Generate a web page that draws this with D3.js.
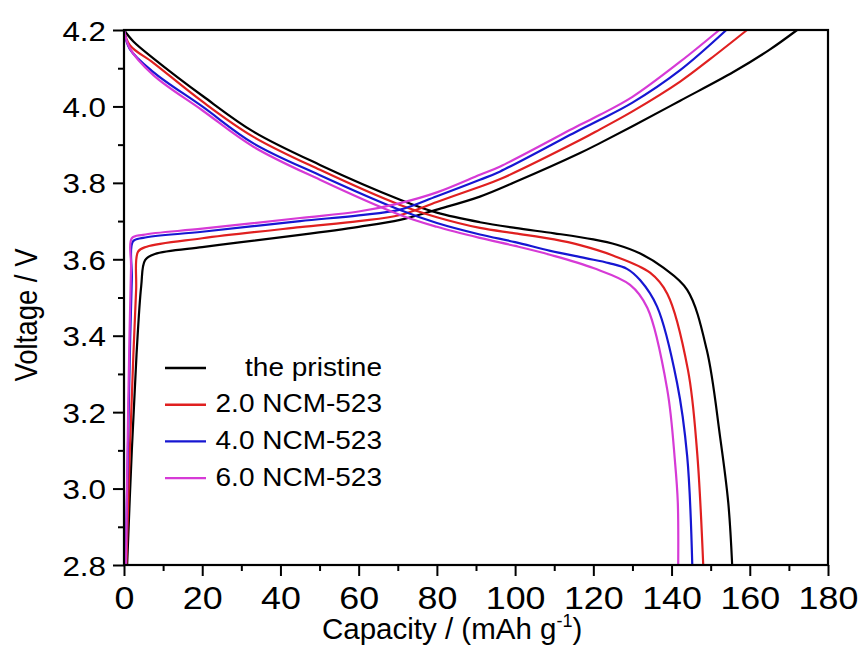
<!DOCTYPE html>
<html>
<head>
<meta charset="utf-8">
<script src="https://cdn.jsdelivr.net/npm/d3@7"></script>
<style>
  body { margin: 0; background: #fff; }
  svg text { font-family: "Liberation Sans", Arial, sans-serif; fill: #000; }
</style>
</head>
<body>
<svg id="chart"></svg>
<script>
// [capacity, voltage] pairs
const chargePristine = [[0.8,2.8],[2.0,3.1],[3.2,3.35],[4.4,3.53],[5.4,3.598],[7.9,3.614],[20,3.632],[30,3.645],[45,3.664],[60,3.685],[70.6,3.703],[80,3.73],[91,3.764],[100,3.802],[116.6,3.878],[121.7,3.904],[130,3.948],[142.2,4.015],[155.8,4.09],[165,4.148],[172.1,4.2]];
const charge20 = [[0.6,2.8],[1.5,3.1],[2.4,3.35],[3.1,3.52],[3.6,3.62],[5.8,3.633],[20,3.655],[45,3.684],[60,3.70],[70.6,3.716],[80,3.75],[91,3.79],[96.2,3.81],[116.6,3.912],[121.7,3.94],[130,3.987],[142.2,4.065],[150,4.125],[159.3,4.2]];
const charge40 = [[0.4,2.8],[1.0,3.1],[1.6,3.4],[2.0,3.55],[2.3,3.647],[4.9,3.656],[20,3.672],[45,3.70],[60,3.715],[70.6,3.73],[80,3.765],[91,3.808],[96.2,3.83],[116.6,3.939],[121.7,3.965],[130,4.01],[142.2,4.095],[154,4.2]];
const charge60 = [[0.5,2.8],[0.9,3.1],[1.4,3.4],[1.8,3.58],[2.0,3.655],[4.9,3.664],[20,3.68],[45,3.708],[60,3.725],[70.6,3.747],[80,3.775],[91,3.821],[96.2,3.843],[116.6,3.952],[121.7,3.978],[130,4.025],[142.2,4.117],[152.2,4.2]];

const dischargePristine = [[0,4.2],[2.4,4.17],[7.5,4.126],[20.3,4.026],[33.1,3.934],[50.1,3.847],[70.6,3.756],[80,3.722],[91,3.697],[100,3.682],[110,3.668],[120,3.652],[126,3.638],[132,3.615],[137.9,3.578],[144,3.52],[149,3.363],[152.4,3.136],[154.5,2.963],[155.5,2.8]];
const discharge20 = [[0,4.2],[1.5,4.16],[7.5,4.114],[20,4.013],[33,3.921],[50.1,3.834],[70.6,3.742],[80,3.71],[91,3.682],[100,3.668],[110,3.652],[116.6,3.637],[125,3.61],[134.5,3.565],[138.9,3.51],[144.2,3.31],[146.5,3.10],[148.1,2.8]];
const discharge40 = [[0,4.2],[1.5,4.15],[7.5,4.09],[20,4.0],[33,3.904],[50.1,3.82],[70.6,3.729],[80,3.695],[91,3.665],[100,3.645],[109,3.622],[118,3.603],[124,3.59],[128.6,3.575],[132,3.545],[136.3,3.476],[141.4,3.277],[144,3.084],[145.3,2.8]];
const discharge60 = [[0,4.2],[1.5,4.152],[7.5,4.082],[20,3.99],[33,3.895],[50.1,3.808],[70.6,3.716],[80,3.685],[91,3.656],[100,3.635],[108.9,3.612],[120,3.577],[129.4,3.533],[133.8,3.473],[138.9,3.259],[140.9,3.068],[141.6,2.963],[141.7,2.8]];

const seriesNames = ["the pristine", "2.0 NCM-523", "4.0 NCM-523", "6.0 NCM-523"];
const seriesColors = ["#000000", "#e02020", "#1616d2", "#d63ad6"];
const chargeData = [chargePristine, charge20, charge40, charge60];
const dischargeData = [dischargePristine, discharge20, discharge40, discharge60];

const xTicks = [0, 20, 40, 60, 80, 100, 120, 140, 160, 180];
const yTicks = [2.8, 3.0, 3.2, 3.4, 3.6, 3.8, 4.0, 4.2];

const W = 859, H = 654;
const mLeft = 124, mRight = 828, mTop = 30, mBottom = 565;
const SX = 1.12; // the original picture is a little stretched sideways

const svg = d3.select("#chart").attr("width", W).attr("height", H);
svg.append("rect").attr("width", W).attr("height", H).attr("fill", "#fff");

const x = d3.scaleLinear().domain([0, 180]).range([mLeft, mRight]);
const y = d3.scaleLinear().domain([2.8, 4.2]).range([mBottom, mTop]);

// curves
const line = d3.line()
    .x(d => x(d[0]))
    .y(d => y(d[1]))
    .curve(d3.curveCatmullRom.alpha(0.5));

const plot = svg.append("g");
for (let i = 0; i < seriesNames.length; i++) {
    [chargeData[i], dischargeData[i]].forEach(data => {
        plot.append("path")
            .datum(data)
            .attr("d", line)
            .attr("fill", "none")
            .attr("stroke", seriesColors[i])
            .attr("stroke-width", 2.2)
            .attr("stroke-linejoin", "round");
    });
}

// minor ticks
svg.append("g")
    .attr("transform", "translate(0," + mBottom + ")")
    .call(d3.axisBottom(x).tickValues(d3.range(10, 180, 20)).tickSize(6).tickFormat(""))
    .call(g => g.select(".domain").remove())
    .selectAll("line").attr("stroke-width", 2);
svg.append("g")
    .attr("transform", "translate(" + mLeft + ",0)")
    .call(d3.axisLeft(y).tickValues(d3.range(2.9, 4.2, 0.2)).tickSize(6).tickFormat(""))
    .call(g => g.select(".domain").remove())
    .selectAll("line").attr("stroke-width", 2);

// major ticks + labels
const xAxis = svg.append("g")
    .attr("transform", "translate(0," + mBottom + ")")
    .call(d3.axisBottom(x).tickValues(xTicks).tickSize(11).tickFormat(d3.format("d")));
xAxis.select(".domain").remove();
xAxis.selectAll("line").attr("stroke-width", 2);
xAxis.selectAll("text")
    .attr("font-size", 32)
    .attr("y", 44).attr("dy", 0)
    .attr("transform", "scale(" + SX + ",1)");

const yAxis = svg.append("g")
    .attr("transform", "translate(" + mLeft + ",0)")
    .call(d3.axisLeft(y).tickValues(yTicks).tickSize(11).tickFormat(d3.format(".1f")));
yAxis.select(".domain").remove();
yAxis.selectAll("line").attr("stroke-width", 2);
yAxis.selectAll("text")
    .attr("font-size", 28)
    .attr("x", -18 / SX).attr("dy", "0.36em")
    .attr("transform", "scale(" + SX + ",1)");

// frame
svg.append("rect")
    .attr("x", mLeft).attr("y", mTop)
    .attr("width", mRight - mLeft).attr("height", mBottom - mTop)
    .attr("fill", "none").attr("stroke", "#000").attr("stroke-width", 2.2);

// axis titles
const xt = svg.append("text")
    .attr("x", 322).attr("y", 639)
    .attr("font-size", 29.5);
xt.append("tspan").text("Capacity / (mAh g");
xt.append("tspan").attr("font-size", 18).attr("dy", -12).text("-1");
xt.append("tspan").attr("dy", 12).text(")");

svg.append("text")
    .attr("transform", "translate(37,315) scale(" + SX + ",1) rotate(-90)")
    .attr("text-anchor", "middle")
    .attr("font-size", 27.5)
    .text("Voltage / V");

// legend
const legend = svg.append("g");
seriesNames.forEach((name, i) => {
    const ly = 368 + i * 36.7;
    legend.append("line")
        .attr("x1", 165).attr("x2", 206)
        .attr("y1", ly).attr("y2", ly)
        .attr("stroke", seriesColors[i]).attr("stroke-width", 2.4);
    legend.append("text")
        .attr("transform", "translate(382," + (ly + 7.5) + ") scale(" + SX + ",1)")
        .attr("text-anchor", "end")
        .attr("font-size", 25)
        .text(name);
});
</script>
</body>
</html>
